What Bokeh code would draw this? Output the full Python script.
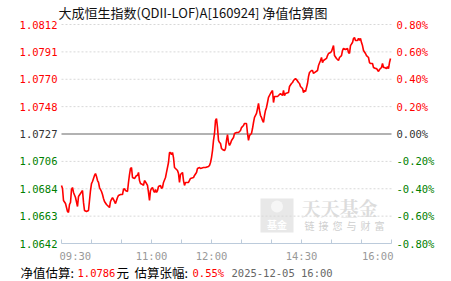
from bokeh.plotting import figure
from bokeh.models import Range1d, ColumnDataSource
from bokeh.core.properties import value
from bokeh.embed import file_html
from bokeh.resources import INLINE

# ---------------- data ----------------
title = "大成恒生指数(QDII-LOF)A[160924] 净值估算图"

am_times = ["09:30","09:31","09:32","09:34","09:36","09:37","09:38","09:39","09:40","09:41",
            "09:42","09:44","09:46","09:47","09:49","09:51","09:52","09:53","09:55","09:57",
            "09:58","09:59","10:00","10:01","10:02","10:03","10:04","10:05","10:06","10:07",
            "10:08","10:10","10:11","10:12","10:13","10:15","10:17","10:18","10:19","10:20",
            "10:21","10:22","10:24","10:26","10:27","10:29","10:31","10:32","10:33","10:34",
            "10:36","10:37","10:38","10:39","10:40","10:41","10:43","10:45","10:46","10:47",
            "10:48","10:49","10:51","10:52","10:53","10:55","10:56","10:57","10:58","10:59",
            "11:00","11:01","11:02","11:03","11:04","11:05","11:06","11:07","11:09","11:10",
            "11:11","11:12","11:14","11:15","11:17","11:18","11:19","11:20","11:21","11:22",
            "11:23","11:24","11:26","11:27","11:28","11:29","11:31","11:32","11:33","11:34",
            "11:37","11:39","11:42","11:43","11:45","11:46","11:48","11:49","11:52","11:54",
            "11:57","11:58","11:59"]
am_pct = [-0.376,-0.398,-0.486,-0.508,-0.566,-0.573,-0.515,-0.500,-0.405,-0.391,
          -0.427,-0.464,-0.530,-0.457,-0.435,-0.413,-0.500,-0.559,-0.566,-0.559,
          -0.486,-0.413,-0.362,-0.347,-0.325,-0.303,-0.289,-0.310,-0.340,-0.354,
          -0.391,-0.420,-0.442,-0.471,-0.493,-0.515,-0.530,-0.537,-0.493,-0.478,
          -0.464,-0.478,-0.508,-0.464,-0.449,-0.442,-0.442,-0.405,-0.398,-0.413,
          -0.420,-0.354,-0.296,-0.252,-0.245,-0.318,-0.325,-0.303,-0.303,-0.281,
          -0.340,-0.362,-0.369,-0.376,-0.340,-0.362,-0.376,-0.427,-0.486,-0.413,
          -0.398,-0.391,-0.413,-0.427,-0.405,-0.427,-0.413,-0.384,-0.376,-0.398,
          -0.391,-0.354,-0.318,-0.281,-0.208,-0.135,-0.135,-0.150,-0.135,-0.172,
          -0.245,-0.252,-0.267,-0.289,-0.354,-0.296,-0.281,-0.340,-0.376,-0.354,
          -0.354,-0.325,-0.318,-0.303,-0.281,-0.252,-0.245,-0.252,-0.245,-0.245,
          -0.237,-0.230,-0.208]

pm_times = ["13:00","13:01","13:02","13:03","13:04","13:05","13:06","13:07","13:08","13:09",
            "13:10","13:11","13:13","13:14","13:15","13:16","13:17","13:18","13:19","13:20",
            "13:22","13:23","13:25","13:27","13:29","13:30","13:32","13:33","13:35","13:36",
            "13:37","13:38","13:40","13:41","13:42","13:43","13:45","13:46","13:47","13:48",
            "13:49","13:50","13:51","13:52","13:53","13:54","13:55","13:56","13:57","13:59",
            "14:01","14:02","14:03","14:06","14:07","14:09","14:11","14:12","14:13","14:14",
            "14:17","14:18","14:20","14:21","14:22","14:24","14:25","14:27","14:28","14:29",
            "14:30","14:31","14:32","14:33","14:34","14:36","14:37","14:38","14:40","14:41",
            "14:42","14:43","14:46","14:47","14:49","14:50","14:51","14:52","14:55","14:56",
            "14:57","14:59","15:00","15:01","15:02","15:03","15:05","15:07","15:08","15:10",
            "15:11","15:12","15:14","15:16","15:17","15:18","15:19","15:21","15:22","15:23",
            "15:24","15:26","15:27","15:28","15:29","15:30","15:31","15:32","15:34","15:35",
            "15:37","15:38","15:39","15:41","15:42","15:44","15:45","15:47","15:48","15:50",
            "15:51","15:52","15:53","15:55","15:56","15:57","15:58","15:59"]
pm_pct = [-0.172,-0.121,-0.047,0.004,0.099,0.113,0.047,-0.047,-0.062,-0.069,
          -0.106,-0.113,-0.121,-0.106,-0.047,-0.004,-0.062,-0.084,-0.069,-0.047,
          -0.026,0.004,0.011,0.011,0.026,0.047,0.062,0.077,0.077,0.004,
          -0.047,-0.011,0.004,0.040,0.084,0.121,0.150,0.186,0.223,0.172,
          0.135,0.121,0.099,0.084,0.135,0.172,0.194,0.230,0.267,0.296,
          0.318,0.230,0.274,0.274,0.281,0.296,0.281,0.318,0.281,0.296,
          0.303,0.347,0.369,0.376,0.391,0.405,0.398,0.376,0.369,0.347,
          0.340,0.332,0.303,0.318,0.310,0.369,0.420,0.449,0.464,0.464,
          0.442,0.449,0.464,0.500,0.537,0.559,0.522,0.537,0.552,0.573,
          0.588,0.595,0.603,0.625,0.646,0.573,0.552,0.537,0.559,0.573,
          0.610,0.625,0.617,0.625,0.595,0.588,0.646,0.668,0.698,0.705,
          0.683,0.683,0.698,0.683,0.698,0.668,0.646,0.610,0.588,0.573,
          0.559,0.522,0.515,0.515,0.486,0.478,0.478,0.457,0.471,0.486,
          0.515,0.486,0.486,0.478,0.493,0.478,0.522,0.552]

pct_ticks = [0.8, 0.6, 0.4, 0.2, 0.0, -0.2, -0.4, -0.6, -0.8]
nav_labels = ["1.0812", "1.0791", "1.0770", "1.0748", "1.0727", "1.0706", "1.0684", "1.0663", "1.0642"]
pct_labels = ["0.80%", "0.60%", "0.40%", "0.20%", "0.00%", "-0.20%", "-0.40%", "-0.60%", "-0.80%"]

axis_tick_times = ["09:30","10:00","10:30","11:00","11:30","12:00",
                   "13:30","14:00","14:30","15:00","15:30","16:00"]
axis_label_times = ["09:30", "11:00", "12:00", "14:30", "16:00"]

est_nav = "1.0786"
est_chg = "0.55%"
stamp = "2025-12-05 16:00"

# ---------------- helpers ----------------
W, H = 451, 281
LEFT, TOP, BOTTOM = 61, 24, 243          # plot-area pixel edges
YMAX, YMIN = 0.8, -0.8
PPU = (BOTTOM - TOP) / (YMAX - YMIN)      # pixels per 1% unit


def tidx(t):
    h, m = map(int, t.split(":"))
    mins = h * 60 + m
    return mins - 570 if mins <= 720 else 150 + (mins - 780)


def X(px):
    return px - LEFT


def Y(py):
    return YMAX - (py - TOP) / PPU


RED, GREEN, ZERO = "#ff0000", "#008000", "#333333"
MONO = value("DejaVu Sans Mono")
CJK = value("Noto Sans CJK SC")

p = figure(width=W, height=H, x_range=Range1d(X(0), X(W)), y_range=Range1d(Y(H), Y(0)),
           min_border=0, toolbar_location=None, output_backend="svg",
           x_axis_type=None, y_axis_type=None, outline_line_color=None,
           background_fill_color="white", border_fill_color="white")

# ---------------- watermark ----------------
p.rect(x=[X(276.5)], y=[Y(215)], width=33, height=34 / PPU, fill_color="#e8e8e8",
       line_color=None)
p.scatter(x=[X(276.5)], y=[Y(206)], size=12, marker="circle", fill_color="#f6f6f6",
          line_color=None)
p.text(x=[X(276.5)], y=[Y(224)], text=["基金"], text_font=CJK, text_font_size="10px",
       text_font_style="bold", text_color="#ffffff", text_align="center", text_baseline="middle")
p.text(x=[X(301)], y=[Y(207)], text=["天天基金"], text_font=value("Noto Serif CJK SC"),
       text_font_size="19px", text_font_style="bold", text_color="#dcdcdc",
       text_align="left", text_baseline="middle")
wm_chars = list("链接您与财富")
p.text(x=[X(309 + 14 * i) for i in range(len(wm_chars))], y=[Y(225)] * len(wm_chars),
       text=wm_chars, text_font=CJK, text_font_size="10px", text_color="#cfcfcf",
       text_align="center", text_baseline="middle")

# ---------------- grid ----------------
x_end = tidx("16:00")
grid_levels = [v for v in pct_ticks if v not in (0.0, YMIN)]
p.segment(x0=[0] * len(grid_levels), y0=grid_levels, x1=[x_end] * len(grid_levels),
          y1=grid_levels, line_color="#d8d8d8", line_dash="2 2", line_width=1)
p.segment(x0=[0], y0=[0.0], x1=[x_end], y1=[0.0], line_color="#999999", line_width=1.5)
p.segment(x0=[0], y0=[YMIN], x1=[x_end], y1=[YMIN], line_color="#bccbdb", line_width=1)
tick_x = [tidx(t) for t in axis_tick_times]
p.segment(x0=tick_x, y0=[YMIN] * len(tick_x), x1=tick_x, y1=[YMIN + 4 / PPU] * len(tick_x),
          line_color="#bccbdb", line_width=1)

# ---------------- line ----------------
xs = [tidx(t) for t in am_times] + [tidx(t) for t in pm_times]
ys = am_pct + pm_pct
n = min(len(xs), len(ys))
p.line(xs[:n], ys[:n], line_color=RED, line_width=1.6)

# ---------------- axis labels ----------------
def lab_color(v):
    return RED if v > 0 else (ZERO if v == 0 else GREEN)


colors = [lab_color(v) for v in pct_ticks]
src = ColumnDataSource(dict(y=pct_ticks, nav=nav_labels, pct=pct_labels, c=colors,
                            xl=[X(57)] * len(pct_ticks), xr=[X(396)] * len(pct_ticks)))
p.text(x="xl", y="y", text="nav", source=src, text_color="c", text_font=MONO,
       text_font_size="10.5px", text_align="right", text_baseline="middle")
p.text(x="xr", y="y", text="pct", source=src, text_color="c", text_font=MONO,
       text_font_size="10.5px", text_align="left", text_baseline="middle")

lab_x = [tidx(t) for t in axis_label_times]
gray = "#999999"
p.text(x=[lab_x[0] - 2], y=[Y(255)], text=[axis_label_times[0]], text_font=MONO,
       text_font_size="10.5px", text_color=gray, text_align="left", text_baseline="middle")
p.text(x=lab_x[1:-1], y=[Y(255)] * (len(lab_x) - 2), text=axis_label_times[1:-1], text_font=MONO,
       text_font_size="10.5px", text_color=gray, text_align="center", text_baseline="middle")
p.text(x=[lab_x[-1] + 2], y=[Y(255)], text=[axis_label_times[-1]], text_font=MONO,
       text_font_size="10.5px", text_color=gray, text_align="right", text_baseline="middle")

# ---------------- title ----------------
p.text(x=[X(58)], y=[Y(12)], text=[title], text_font=CJK, text_font_size="13px",
       text_color="#111111", text_align="left", text_baseline="middle")

# ---------------- footer ----------------
fy = Y(272)
p.text(x=[X(20)], y=[fy], text=["净值估算:"], text_font=CJK, text_font_size="12.5px",
       text_color="#000000", text_align="left", text_baseline="middle")
p.text(x=[X(77)], y=[fy], text=[est_nav], text_font=MONO, text_font_size="10.5px",
       text_color=RED, text_align="left", text_baseline="middle")
p.text(x=[X(116)], y=[fy], text=["元"], text_font=CJK, text_font_size="12.5px",
       text_color="#000000", text_align="left", text_baseline="middle")
p.text(x=[X(134)], y=[fy], text=["估算张幅:"], text_font=CJK, text_font_size="12.5px",
       text_color="#000000", text_align="left", text_baseline="middle")
p.text(x=[X(192)], y=[fy], text=[est_chg], text_font=MONO, text_font_size="10.5px",
       text_color=RED, text_align="left", text_baseline="middle")
p.text(x=[X(231)], y=[fy], text=[stamp], text_font=MONO, text_font_size="10.5px",
       text_color="#666666", text_align="left", text_baseline="middle")

open("out.html", "w").write(file_html(p, INLINE))
